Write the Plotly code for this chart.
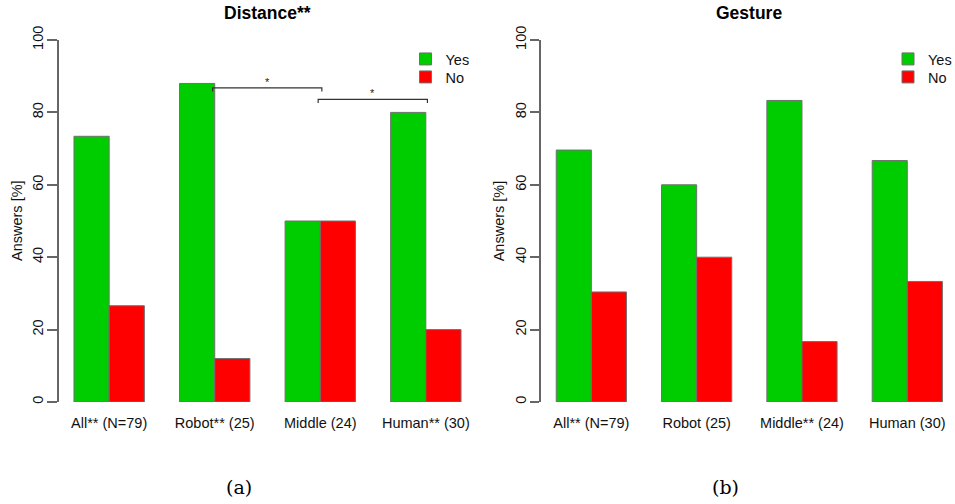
import plotly.graph_objects as go

# ---- data ----
dist_categories = ["All** (N=79)", "Robot** (25)", "Middle (24)", "Human** (30)"]
dist_yes = [73.4, 88.0, 50.0, 80.0]
dist_no = [26.6, 12.0, 50.0, 20.0]

gest_categories = ["All** (N=79)", "Robot (25)", "Middle** (24)", "Human (30)"]
gest_yes = [69.6, 60.0, 83.3, 66.7]
gest_no = [30.4, 40.0, 16.7, 33.3]

series_names = ["Yes", "No"]
panel_titles = ["Distance**", "Gesture"]
panel_captions = ["(a)", "(b)"]
y_ticks = [0, 20, 40, 60, 80, 100]
y_label = "Answers [%]"

# significance brackets on the Distance panel: (from group, to group, height, label)
dist_brackets = [(1, 2, 86.8, "*"), (2, 3, 83.6, "*")]

# ---- style ----
W, H = 955, 504
GREEN = "#00CD00"
RED = "#FF0000"
AXIS = "#666666"
BORDER = "#707070"
FONT = "Liberation Sans"


def px(v):
    return v / W


def py(v):
    return 1 - v / H


fig = go.Figure()

panels = [
    dict(cats=dist_categories, yes=dist_yes, no=dist_no, xa="x", ya="y",
         legends=["legend", "legend2"], legx=405.5,
         dom=(58.5, 476.5), rng=(-0.48, 3.48)),
    dict(cats=gest_categories, yes=gest_yes, no=gest_no, xa="x2", ya="y2",
         legends=["legend3", "legend4"], legx=888.0,
         dom=(540.8, 955.0), rng=(-0.48, 3.453)),
]

legend_defs = {}
for p in panels:
    for k, (name, vals, col) in enumerate(zip(series_names, [p["yes"], p["no"]], [GREEN, RED])):
        fig.add_trace(go.Bar(
            x=p["cats"], y=vals, name=name, xaxis=p["xa"], yaxis=p["ya"],
            legend=p["legends"][k],
            marker=dict(color=col, line=dict(color=BORDER, width=1)),
            hoverinfo="x+y",
        ))
        legend_defs[p["legends"][k]] = dict(
            x=px(p["legx"]), y=py(59 + 18 * k), xanchor="left", yanchor="middle",
            bgcolor="rgba(0,0,0,0)", borderwidth=0,
            font=dict(family=FONT, size=14.5, color="#111"))

ydom = (py(402), py(40))

axis_common_y = dict(
    range=[0, 100], tickvals=y_ticks, tickangle=-90, ticks="outside", ticklen=9.5,
    ticklabelstandoff=-2,
    tickwidth=1.5, tickcolor=AXIS, showline=True, linecolor=AXIS, linewidth=1.5,
    showgrid=False, zeroline=False, tickfont=dict(family=FONT, size=14.5, color="#111"),
    fixedrange=True, domain=list(ydom), automargin=False,
)

axis_common_x = dict(
    showline=False, showgrid=False, zeroline=False, ticks="outside", ticklen=8,
    tickcolor="rgba(0,0,0,0)", tickfont=dict(family=FONT, size=14.5, color="#111"),
    fixedrange=True, automargin=False,
)

fig.update_layout(
    width=W, height=H, margin=dict(l=0, r=0, t=0, b=0, autoexpand=False),
    paper_bgcolor="white", plot_bgcolor="white",
    barmode="group", bargap=1 / 3, bargroupgap=0,
    font=dict(family=FONT, size=14.5, color="#111"),
    xaxis=dict(domain=[px(panels[0]["dom"][0]), px(panels[0]["dom"][1])],
               range=list(panels[0]["rng"]), anchor="y", **axis_common_x),
    xaxis2=dict(domain=[px(panels[1]["dom"][0]), px(panels[1]["dom"][1])],
                range=list(panels[1]["rng"]), anchor="y2", **axis_common_x),
    yaxis=dict(anchor="x", **axis_common_y),
    yaxis2=dict(anchor="x2", **axis_common_y),
    showlegend=True,
    **legend_defs,
)

annotations = []
for p, title, cap, capx in zip(panels, panel_titles, panel_captions, [238.7, 725]):
    cx = (p["dom"][0] + (p["dom"][1] if p["xa"] == "x" else 958.0)) / 2
    annotations.append(dict(text="<b>%s</b>" % title, x=px(cx), y=py(13), xref="paper", yref="paper",
                            showarrow=False, xanchor="center", yanchor="middle",
                            font=dict(family=FONT, size=17.5, color="#000")))
    annotations.append(dict(text=y_label, x=px(p["dom"][0] - 41.5), y=py(221), xref="paper", yref="paper",
                            showarrow=False, textangle=-90, xanchor="center", yanchor="middle",
                            font=dict(family=FONT, size=14.5, color="#111")))
    annotations.append(dict(text=cap, x=px(capx), y=py(487), xref="paper", yref="paper",
                            showarrow=False, xanchor="center", yanchor="middle",
                            font=dict(family="DejaVu Serif", size=19, color="#000")))

shapes = []
for i0, i1, yb, lab in dist_brackets:
    x0 = i0 - 0.02
    x1 = i1 + 0.015
    shapes.append(dict(type="path", xref="x", yref="y",
                       path="M %f,%f L %f,%f L %f,%f L %f,%f" % (x0, yb - 1.0, x0, yb, x1, yb, x1, yb - 1.0),
                       line=dict(color="#333333", width=1.2)))
    annotations.append(dict(text=lab, x=(x0 + x1) / 2, y=yb + 0.6, xref="x", yref="y", showarrow=False,
                            xanchor="center", yanchor="bottom", yshift=-4,
                            font=dict(family=FONT, size=11, color="#222")))

fig.update_layout(annotations=annotations, shapes=shapes)

fig.write_html("out.html")
